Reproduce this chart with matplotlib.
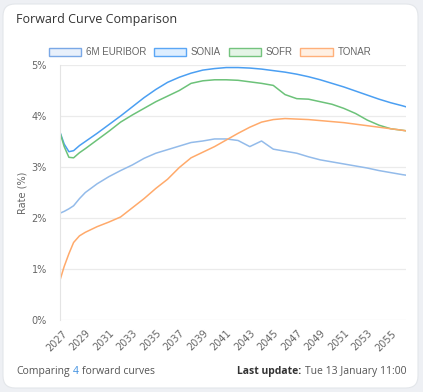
import matplotlib.pyplot as plt
from matplotlib.patches import FancyBboxPatch, Patch

# data (years as decimal positions, rates in %)
years = [2026.8, 2027.2, 2027.6, 2028, 2028.5, 2029, 2030, 2031, 2032, 2033,
         2034, 2035, 2036, 2037, 2038, 2039, 2040, 2041, 2042, 2043,
         2044, 2045, 2046, 2047, 2048, 2049, 2050, 2051, 2052, 2053,
         2054, 2055, 2056, 2056.3]

euribor = [2.09, 2.13, 2.18, 2.24, 2.38, 2.50, 2.67, 2.81, 2.93, 3.04,
           3.17, 3.27, 3.34, 3.41, 3.48, 3.51, 3.55, 3.55, 3.52, 3.40,
           3.51, 3.35, 3.31, 3.27, 3.20, 3.14, 3.10, 3.06, 3.02, 2.98,
           2.93, 2.89, 2.85, 2.84]

sonia = [3.71, 3.45, 3.30, 3.32, 3.42, 3.50, 3.66, 3.83, 4.00, 4.18,
         4.36, 4.52, 4.66, 4.76, 4.84, 4.90, 4.93, 4.95, 4.95, 4.94,
         4.92, 4.89, 4.86, 4.82, 4.77, 4.71, 4.64, 4.57, 4.49, 4.41,
         4.33, 4.26, 4.20, 4.18]

sofr = [3.71, 3.40, 3.19, 3.18, 3.28, 3.36, 3.53, 3.70, 3.88, 4.02,
        4.15, 4.28, 4.39, 4.50, 4.64, 4.69, 4.71, 4.71, 4.70, 4.67,
        4.64, 4.60, 4.42, 4.34, 4.33, 4.28, 4.23, 4.15, 4.05, 3.92,
        3.82, 3.75, 3.72, 3.71]

tonar = [0.75, 1.05, 1.30, 1.52, 1.65, 1.72, 1.83, 1.92, 2.02, 2.20,
         2.38, 2.58, 2.76, 2.99, 3.18, 3.29, 3.40, 3.53, 3.66, 3.78,
         3.88, 3.93, 3.95, 3.94, 3.93, 3.91, 3.89, 3.87, 3.84, 3.81,
         3.78, 3.75, 3.72, 3.71]

names = ["6M EURIBOR", "SONIA", "SOFR", "TONAR"]
line_cols = ["#93bbea", "#4b9ff2", "#6cc279", "#ffaa6b"]
box_face = ["#e8f0fb", "#ddeeff", "#e4f4e6", "#fff0e3"]
box_edge = ["#7aa8e6", "#5aa6f5", "#74c37e", "#ffb07a"]

xticks = list(range(2027, 2056, 2))
yticks = [0, 1, 2, 3, 4, 5]

W, H = 423, 392
fig = plt.figure(figsize=(W / 100, H / 100), dpi=100)
fig.patch.set_facecolor("#eef0f4")

# card background in pixel coords
bg = fig.add_axes([0, 0, 1, 1])
bg.set_xlim(0, W)
bg.set_ylim(H, 0)
bg.axis("off")
bg.add_patch(FancyBboxPatch((3, 4), 415, 384, boxstyle="round,pad=0,rounding_size=12",
                            facecolor="white", edgecolor="#e3e6ea", linewidth=0.8))

ax = fig.add_axes([59.5 / W, 1 - 320 / H, (406 - 59.5) / W, (320 - 65) / H])
ax.set_facecolor("none")

series = [euribor, sonia, sofr, tonar]
for vals, c in zip(series, line_cols):
    ax.plot(years, vals, color=c, linewidth=1.1)

ax.set_xlim(2026.8, 2056.3)
ax.set_ylim(0, 5)
ax.set_yticks(yticks)
ax.set_yticklabels([f"{v}%" for v in yticks])
ax.set_xticks(xticks)
ax.set_xticklabels([str(y) for y in xticks], rotation=45, ha="right",
                   rotation_mode="anchor")
ax.tick_params(axis="both", length=0, labelsize=7, labelcolor="#666666")
ax.tick_params(axis="y", pad=9)
ax.tick_params(axis="x", pad=6)
ax.grid(axis="y", color="#ebebeb", linewidth=0.9)
for s in ["top", "right", "bottom"]:
    ax.spines[s].set_visible(False)
ax.spines["left"].set_color("#e4e4e4")
ax.set_ylabel("Rate (%)", fontsize=7, color="#666666", labelpad=3)

handles = [Patch(facecolor=f, edgecolor=e, linewidth=1.0) for f, e in zip(box_face, box_edge)]
fig.legend(handles, names, loc="center", bbox_to_anchor=(210 / W, 1 - 52 / H), ncol=4,
           frameon=False, fontsize=7, labelcolor="#666666", handlelength=3.3,
           handleheight=0.85, handletextpad=0.5, columnspacing=0.8,
           prop={"family": "Liberation Sans", "size": 7})

fig.text(16 / W, 1 - 20 / H, "Forward Curve Comparison", fontsize=9, color="#333333",
         va="center", family="Open Sans")

t1 = fig.text(16 / W, 1 - 374 / H, "Comparing", fontsize=7.5, color="#555555",
              va="baseline", family="Open Sans")
t2 = bg.annotate("4", xy=(1, 0), xycoords=t1, xytext=(2.2, 0), textcoords="offset points",
                 va="bottom", fontsize=7.5, color="#3d8fe0", family="Open Sans")
bg.annotate("forward curves", xy=(1, 0), xycoords=t2, xytext=(2.2, 0),
            textcoords="offset points", va="bottom", fontsize=7.5,
            color="#555555", family="Open Sans")

t3 = fig.text(406 / W, 1 - 374 / H, "Tue 13 January 11:00", fontsize=7.5, color="#555555",
              ha="right", va="baseline", family="Open Sans")
bg.annotate("Last update:", xy=(0, 0), xycoords=t3, xytext=(-2.2, 0),
            textcoords="offset points", ha="right", va="bottom", fontsize=7.5,
            color="#333333", fontweight="bold", family="Open Sans")

fig.savefig("out.png", dpi=100, facecolor=fig.get_facecolor())
